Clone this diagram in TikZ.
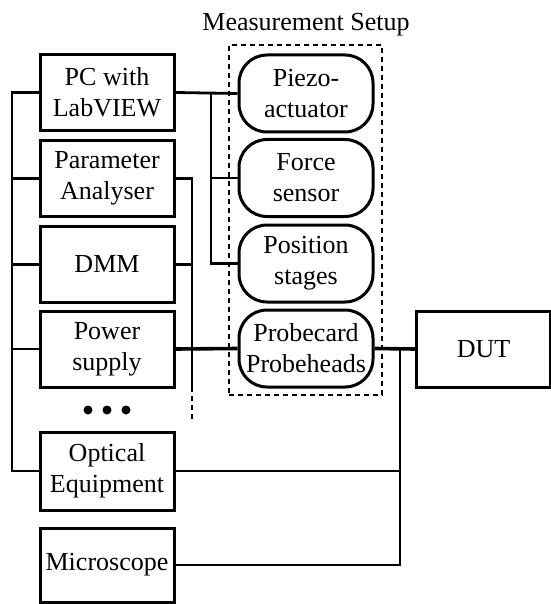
\documentclass[tikz,border=0pt]{standalone}
\usepackage{fontspec}
\setmainfont{Liberation Serif}
\begin{document}
\begin{tikzpicture}[x=1pt,y=-1pt,
  every node/.style={font=\fontsize{26}{31}\selectfont, align=center, inner sep=0pt},
  devbox/.style={draw, line width=3pt, minimum width=134pt, minimum height=76pt},
  setupbox/.style={draw, line width=3pt, rounded corners=28pt, minimum width=134pt, minimum height=77pt},
  wire/.style={line width=2.8pt},
  thickwire/.style={line width=3.6pt}]
\useasboundingbox (0,0) rectangle (550,604);
% left devices
\node[devbox] (pc) at (107,92.5) {PC with\\LabVIEW};
\node[devbox] (pa) at (107,178.5) {Parameter\\Analyser};
\node[devbox] (dmm) at (107,264.5) {DMM};
\node[devbox] (ps) at (107,349) {Power\\supply};
\node[devbox, minimum height=78pt] (oe) at (107,471) {Optical\\Equipment};
\node[devbox, minimum height=74pt] (mic) at (107,565) {Microscope};
\node[circle, fill, minimum size=9pt] (d1) at (88,410) {};
\node[circle, fill, minimum size=9pt] (d2) at (107,410) {};
\node[circle, fill, minimum size=9pt] (d3) at (126,410) {};
% setup
\node (title) at (306,31) [anchor=base] {Measurement Setup};
\node[setupbox] (pz) at (306,93.5) {Piezo-\\actuator};
\node[setupbox] (fs) at (306,178) {Force\\sensor};
\node[setupbox] (pos) at (306,263.5) {Position\\stages};
\node[setupbox] (pb) at (306,348.5) {Probecard\\Probeheads};
\node[draw, line width=2.6pt, dashed, dash pattern=on 5pt off 4pt, minimum width=153pt, minimum height=350pt] (frame) at (305.5,220) {};
\node[devbox] (dut) at (483.5,349) {DUT};
% coordinates
\coordinate (busT) at (12,92.5);
\coordinate (busB) at (12,471);
\coordinate (ctlT) at (211,92.5);
\coordinate (ctlB) at (211,263.5);
\coordinate (meaT) at (192,178.5);
\coordinate (meaS) at (192,387);
\coordinate (meaE) at (192,422);
\coordinate (dutJ) at (400,348.5);
\coordinate (dutB) at (400,565);
% left bus
\draw[wire] (pc.west) -- (busT) -- (busB) -- (oe.west);
\draw[wire] (pa.west) -- (pa.west -| busT);
\draw[wire] (dmm.west) -- (dmm.west -| busT);
\draw[wire] (ps.west) -- (ps.west -| busT);
% control lines
\draw[wire] (pc.east) -- (pz.west);
\draw[wire] (ctlT) -- (ctlB) -- (pos.west);
\draw[wire] (fs.west -| ctlT) -- (fs.west);
% measurement bus
\draw[wire] (pa.east) -- (meaT) -- (meaS);
\draw[wire, dashed, dash pattern=on 5pt off 4pt] (meaS) -- (meaE);
\draw[wire] (dmm.east) -- (dmm.east -| meaT);
\draw[thickwire] (ps.east) -- (pb.west);
% DUT lines
\draw[thickwire] (pb.east) -- (dut.west);
\draw[wire] (dutJ) -- (dutB) -- (mic.east);
\draw[wire] (oe.east) -- (oe.east -| dutJ);
\end{tikzpicture}
\end{document}
